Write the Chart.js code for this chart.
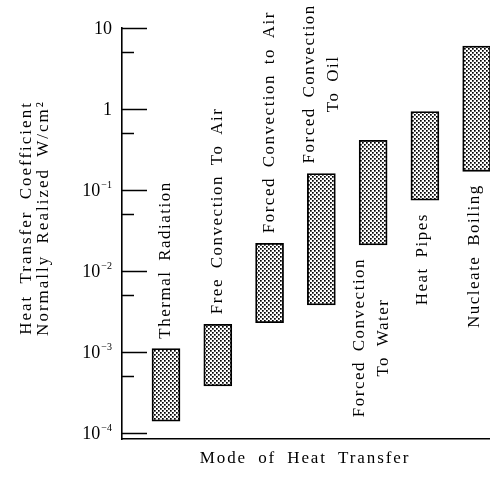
<!DOCTYPE html>
<html><head><meta charset="utf-8">
<script src="https://cdn.jsdelivr.net/npm/chart.js@4/dist/chart.umd.min.js"></script>
<style>html,body{margin:0;padding:0;background:#fff}#wrap{width:490px;height:479px;position:relative}</style>
</head><body><div id="wrap"><canvas id="c" width="490" height="479"></canvas></div>
<script>
// ---- data ----
const categories = ['Thermal Radiation', 'Free Convection To Air', 'Forced Convection to Air',
  ['Forced Convection', 'To Oil'], ['Forced Convection', 'To Water'], 'Heat Pipes', 'Nucleate Boiling'];
const lowValues  = [1.4e-4, 3.8e-4, 2.3e-3, 3.8e-3, 0.021, 0.075, 0.17];
const highValues = [1.1e-3, 2.2e-3, 0.022, 0.16, 0.41, 0.93, 6.0];
const majorTickValues = [10, 1, 0.1, 0.01, 0.001, 0.0001];
const majorTickBase = ['10', '1', '10', '10', '10', '10'];
const majorTickExp  = ['', '', '−1', '−2', '−3', '−4'];
const minorTickValues = [5, 0.5, 0.05, 0.005, 0.0005];
const labelSide = ['above', 'above', 'above', 'above', 'below', 'below', 'below'];
const yTitle = ['Heat Transfer Coefficient', 'Normally Realized W/cm²'];
const xTitle = 'Mode of Heat Transfer';

// ---- stipple pattern ----
const tile = document.createElement('canvas');
tile.width = 4; tile.height = 4;
const tctx = tile.getContext('2d');
tctx.fillStyle = '#fff'; tctx.fillRect(0, 0, 4, 4);
tctx.fillStyle = '#000';
tctx.fillRect(0, 0, 1.7, 1.7);
tctx.fillRect(2, 2, 1.7, 1.7);
const mainCtx = document.getElementById('c').getContext('2d');
const stipple = mainCtx.createPattern(tile, 'repeat');

const FONT = '"Liberation Serif", "DejaVu Serif", serif';

function setSpacing(ctx, ls, ws) {
  if ('letterSpacing' in ctx) ctx.letterSpacing = ls + 'px';
  if ('wordSpacing' in ctx) ctx.wordSpacing = ws + 'px';
}

const decor = {
  id: 'decor',
  afterDraw(chart) {
    const ctx = chart.ctx;
    const ys = chart.scales.y;
    const L = chart.chartArea.left;
    ctx.save();
    ctx.strokeStyle = '#000';
    ctx.lineWidth = 1.5;
    // tick marks (pointing inward)
    majorTickValues.forEach(v => {
      const y = Math.round(ys.getPixelForValue(v)) + 0.5;
      ctx.beginPath(); ctx.moveTo(L, y); ctx.lineTo(L + 25, y); ctx.stroke();
    });
    minorTickValues.forEach(v => {
      const y = Math.round(ys.getPixelForValue(v)) + 0.5;
      ctx.beginPath(); ctx.moveTo(L, y); ctx.lineTo(L + 12, y); ctx.stroke();
    });
    // tick labels
    ctx.fillStyle = '#000';
    majorTickValues.forEach((v, i) => {
      const y = ys.getPixelForValue(v);
      const right = L - 10;
      ctx.textBaseline = 'middle';
      ctx.textAlign = 'right';
      let ew = 0;
      if (majorTickExp[i]) {
        ctx.font = '10px ' + FONT;
        ctx.fillText(majorTickExp[i], right, y - 5);
        ew = ctx.measureText(majorTickExp[i]).width + 1;
      }
      ctx.font = '18px ' + FONT;
      ctx.fillText(majorTickBase[i], right - ew, y + 1);
    });
    // y title
    ctx.font = '17px ' + FONT;
    setSpacing(ctx, 2, 5);
    ctx.textAlign = 'center';
    ctx.textBaseline = 'middle';
    [27, 44].forEach((x, i) => {
      ctx.save(); ctx.translate(x, 218); ctx.rotate(-Math.PI / 2);
      ctx.fillText(yTitle[i], 0, 0); ctx.restore();
    });
    // x title
    ctx.font = '17px ' + FONT;
    setSpacing(ctx, 1.9, 5);
    ctx.fillText(xTitle, 305, 459);
    // category labels
    ctx.font = '17px ' + FONT;
    setSpacing(ctx, 1.5, 4);
    const meta = chart.getDatasetMeta(0);
    meta.data.forEach((bar, i) => {
      const lines = Array.isArray(categories[i]) ? categories[i] : [categories[i]];
      const w = Math.max(...lines.map(s => ctx.measureText(s).width));
      const lineH = 24;
      const top = Math.min(bar.y, bar.base), bottom = Math.max(bar.y, bar.base);
      ctx.save();
      if (labelSide[i] === 'above') {
        ctx.translate(bar.x, top - 10);
      } else {
        ctx.translate(bar.x - 2, bottom + 13 + w);
      }
      ctx.rotate(-Math.PI / 2);
      lines.forEach((s, k) => {
        const dy = (k - (lines.length - 1) / 2) * lineH;
        ctx.textAlign = lines.length > 1 ? 'center' : 'left';
        ctx.fillText(s, lines.length > 1 ? w / 2 : 0, dy);
      });
      ctx.restore();
    });
    ctx.restore();
  }
};

new Chart(document.getElementById('c'), {
  type: 'bar',
  data: {
    datasets: [{
      data: categories.map((c, i) => ({ x: i + 1, y: [lowValues[i], highValues[i]] })),
      backgroundColor: stipple,
      borderColor: '#000',
      borderWidth: 1.8,
      borderSkipped: false,
      barThickness: 28
    }]
  },
  options: {
    responsive: false,
    animation: false,
    layout: { padding: { left: 122, top: 28, right: 0, bottom: 40 } },
    plugins: { legend: { display: false }, tooltip: { enabled: false } },
    scales: {
      x: { type: 'linear', min: 0.15, max: 7.257, offset: false,
           ticks: { display: false }, grid: { display: false, drawTicks: false, offset: false },
           border: { display: true, color: '#000', width: 1.6 } },
      y: { type: 'logarithmic', min: 8.43e-5, max: 10,
           ticks: { display: false }, grid: { display: false, drawTicks: false },
           border: { display: true, color: '#000', width: 1.6 } }
    }
  },
  plugins: [decor]
});
</script></body></html>
